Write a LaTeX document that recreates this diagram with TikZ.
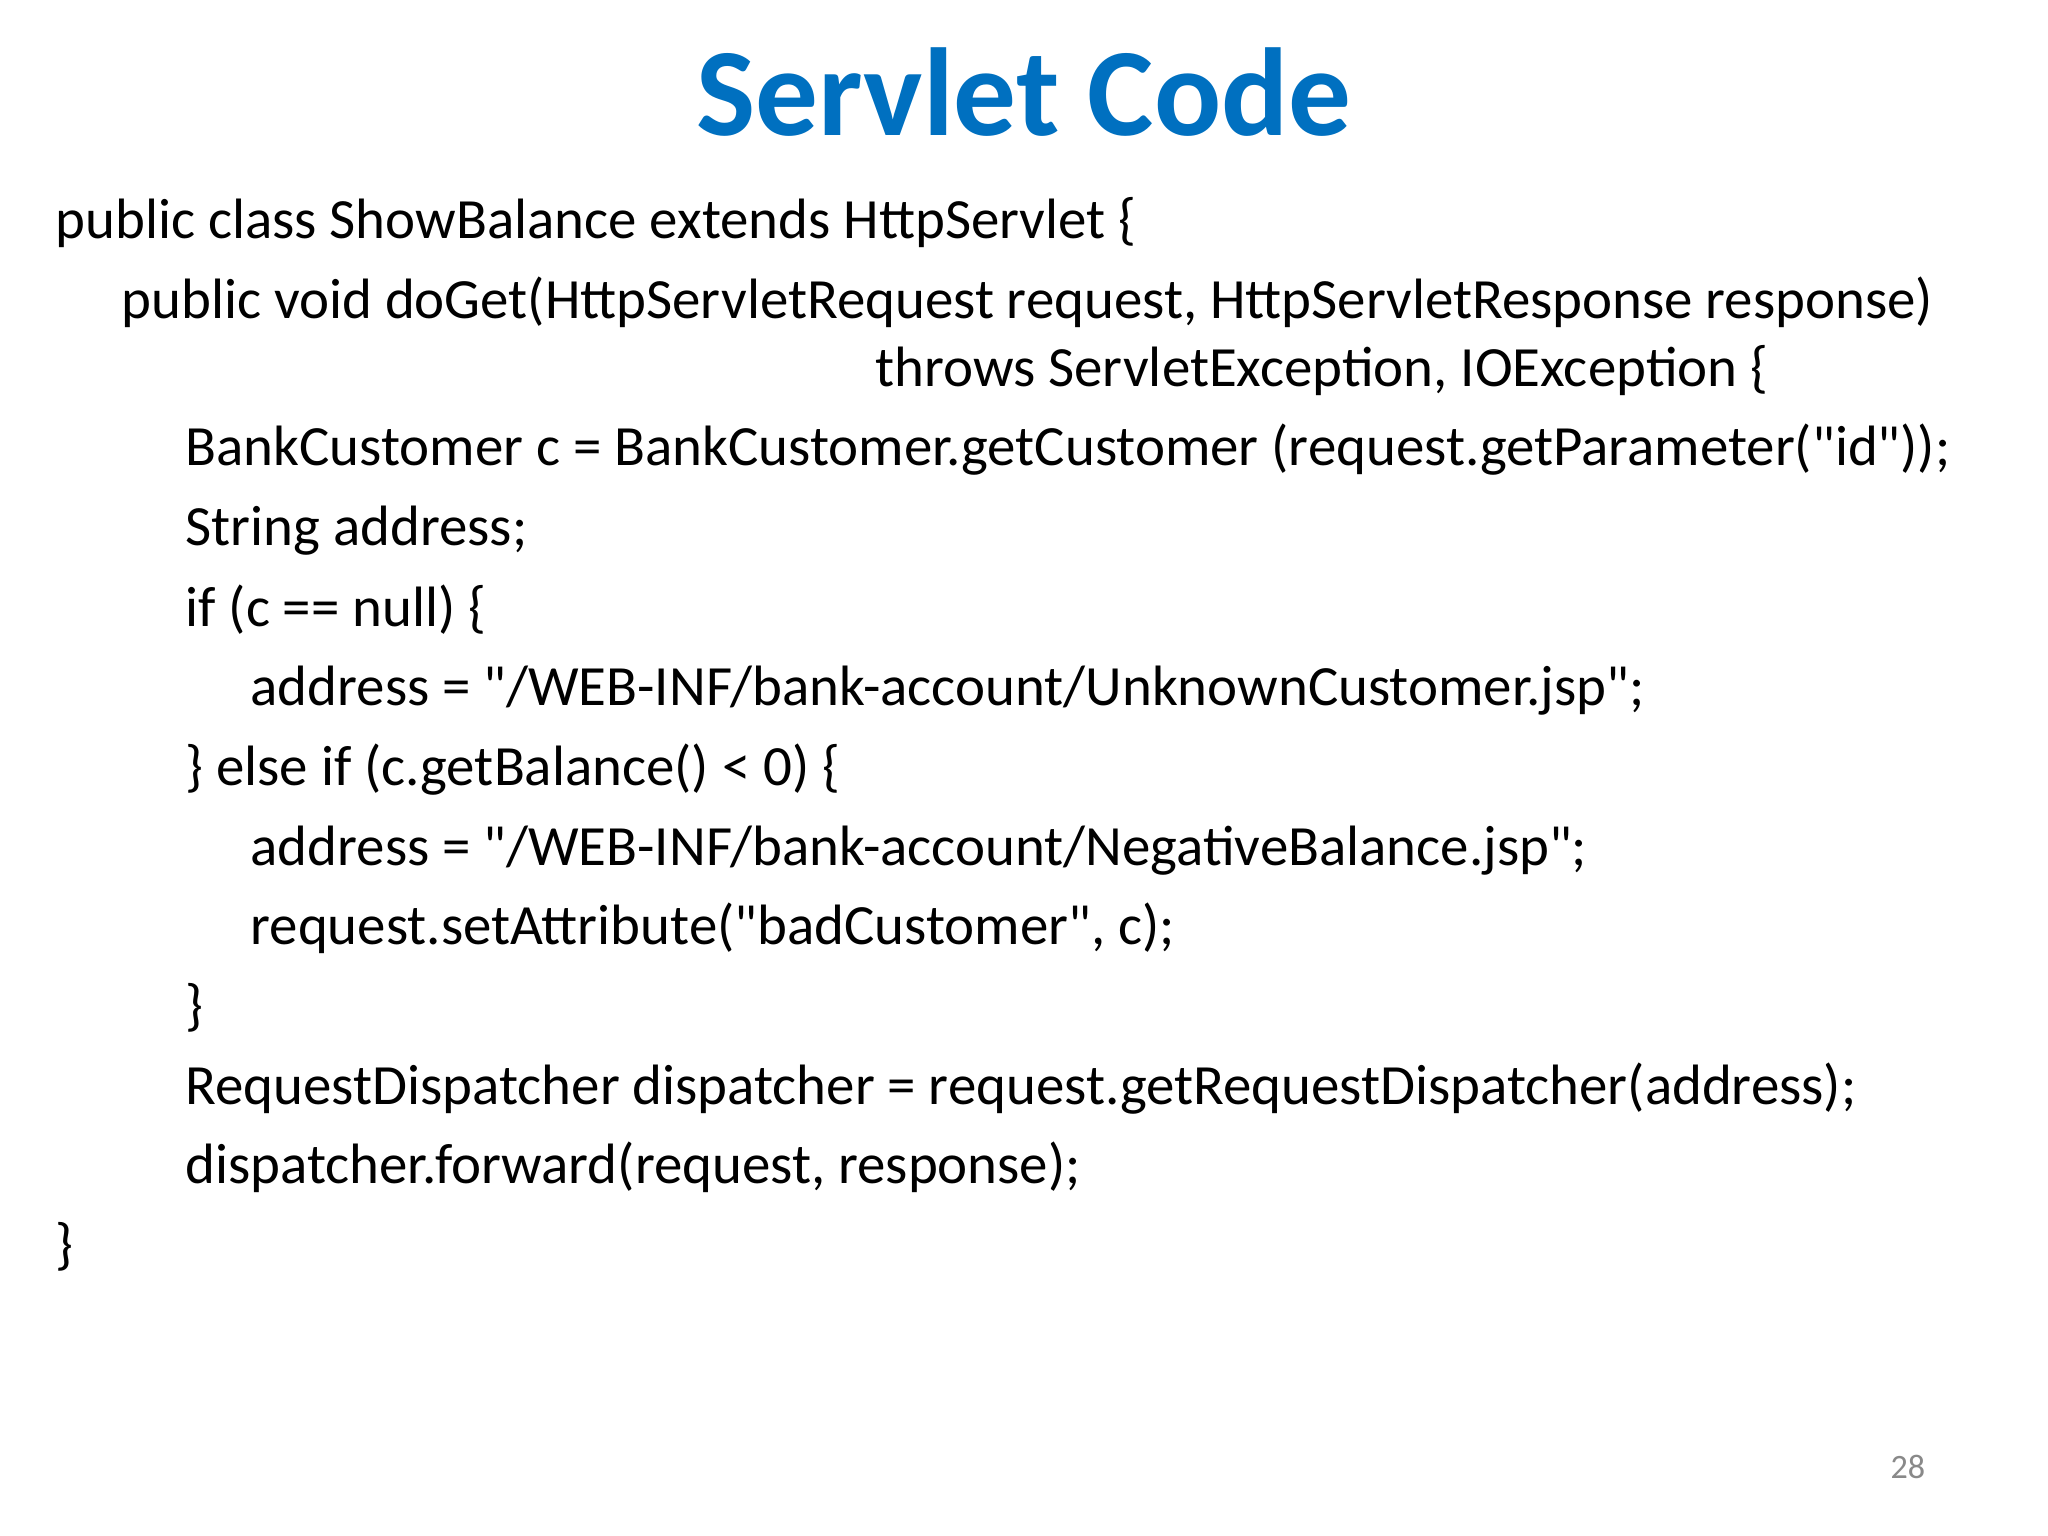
\documentclass[tikz,border=0pt]{standalone}
\usepackage{fontspec}
\setmainfont{Carlito}
\newfontfamily\codefont{Carlito}
\definecolor{titleblue}{RGB}{0,112,192}
\definecolor{pagegray}{RGB}{137,137,137}
\begin{document}
\begin{tikzpicture}[x=0.3515625pt,y=-0.3515625pt,
  code/.style={anchor=base west,inner sep=0pt,font=\codefont\fontsize{20}{24}\selectfont,text=black},
  titletext/.style={anchor=base,inner sep=0pt,font=\fontsize{44}{52}\selectfont\bfseries,text=titleblue},
  pagenum/.style={anchor=base west,inner sep=0pt,font=\fontsize{12}{14}\selectfont,text=pagegray}]
\useasboundingbox[fill=white] (0,0) rectangle (2048,1536);
\node[titletext] (title) at (1024,136) {Servlet Code};
\node[code] (l1) at (55,239) {public class ShowBalance extends HttpServlet \{};
\node[code] (l2) at (121,319) {public void doGet(HttpServletRequest request, HttpServletResponse response)};
\node[code] (l3) at (875,387) {throws ServletException, IOException \{};
\node[code] (l4) at (185,466) {BankCustomer c = BankCustomer.getCustomer (request.getParameter("id"));};
\node[code] (l5) at (185,546) {String address;};
\node[code] (l6) at (185,626) {if (c == null) \{};
\node[code] (l7) at (250,705) {address = "/WEB-INF/bank-account/UnknownCustomer.jsp";};
\node[code] (l8) at (185,785) {\} else if (c.getBalance() < 0) \{};
\node[code] (l9) at (250,865) {address = "/WEB-INF/bank-account/NegativeBalance.jsp";};
\node[code] (l10) at (250,944) {request.setAttribute("badCustomer", c);};
\node[code] (l11) at (185,1024) {\}};
\node[code] (l12) at (185,1104) {RequestDispatcher dispatcher = request.getRequestDispatcher(address);};
\node[code] (l13) at (185,1183) {dispatcher.forward(request, response);};
\node[code] (l14) at (55,1263) {\}};
\node[pagenum] (page) at (1890,1478) {28};
\end{tikzpicture}
\end{document}
